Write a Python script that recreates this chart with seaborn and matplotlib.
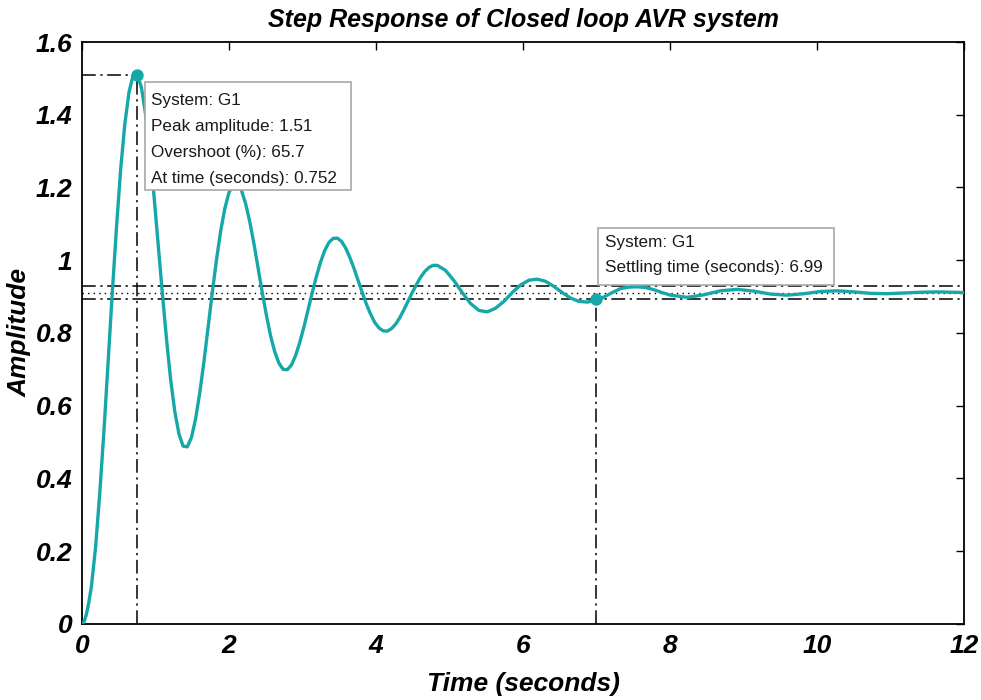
import matplotlib
matplotlib.use("Agg")
import matplotlib.pyplot as plt
import pandas as pd
import seaborn as sns
from matplotlib.patches import Rectangle

# ---------------- data ----------------
time_s = [0.0, 0.03, 0.06, 0.09, 0.129,
          0.185, 0.242, 0.299, 0.355, 0.412, 0.469, 0.525, 0.582, 0.639, 0.695, 0.752,
          0.809, 0.865, 0.922, 0.979, 1.035, 1.092, 1.149, 1.205, 1.262, 1.319, 1.375, 1.432,
          1.489, 1.545, 1.602, 1.659, 1.715, 1.772, 1.829, 1.885, 1.942, 1.999, 2.055, 2.112,
          2.169, 2.225, 2.282, 2.339, 2.395, 2.452, 2.509, 2.565, 2.622, 2.679, 2.735, 2.792,
          2.849, 2.905, 2.962, 3.019, 3.075, 3.132, 3.189, 3.245, 3.302, 3.359, 3.415, 3.472,
          3.529, 3.585, 3.642, 3.699, 3.755, 3.812, 3.869, 3.925, 3.982, 4.039, 4.095, 4.152,
          4.209, 4.265, 4.322, 4.379, 4.435, 4.492, 4.549, 4.605, 4.662, 4.719, 4.775, 4.832,
          4.945, 5.059, 5.172, 5.285, 5.399, 5.512, 5.625, 5.739, 5.852, 5.965, 6.079, 6.192,
          6.305, 6.419, 6.532, 6.645, 6.759, 6.872, 6.985, 7.099, 7.212, 7.325, 7.439, 7.552,
          7.665, 7.779, 7.892, 8.005,
          8.232, 8.459, 8.685, 8.912, 9.139, 9.365, 9.592, 9.819, 10.045, 10.272, 10.499,
          10.725, 10.952, 11.179, 11.405, 11.632, 11.859, 12.0]

amplitude = [0.0, 0.007, 0.027, 0.056, 0.105,
             0.212, 0.361, 0.533, 0.721, 0.911, 1.090, 1.248, 1.374, 1.462, 1.508, 1.511,
             1.474, 1.401, 1.300, 1.178, 1.045, 0.911, 0.784, 0.673, 0.584, 0.522, 0.489, 0.487,
             0.513, 0.564, 0.636, 0.722, 0.816, 0.911, 1.001, 1.079, 1.142, 1.186, 1.209, 1.211,
             1.192, 1.156, 1.106, 1.045, 0.978, 0.911, 0.848, 0.792, 0.748, 0.717, 0.700, 0.699,
             0.712, 0.738, 0.774, 0.817, 0.864, 0.911, 0.956, 0.995, 1.027, 1.049, 1.060, 1.061,
             1.052, 1.034, 1.008, 0.978, 0.945, 0.911, 0.879, 0.852, 0.829, 0.814, 0.806, 0.805,
             0.812, 0.824, 0.842, 0.864, 0.887, 0.911, 0.933, 0.953, 0.969, 0.980, 0.986, 0.986,
             0.972, 0.944, 0.911, 0.881, 0.862, 0.858, 0.868, 0.887, 0.911, 0.932, 0.945, 0.948,
             0.942, 0.928, 0.911, 0.896, 0.887, 0.885, 0.889, 0.899, 0.911, 0.922, 0.926, 0.927,
             0.925, 0.919, 0.911, 0.904,
             0.898, 0.905, 0.916, 0.920, 0.915, 0.907, 0.904, 0.908, 0.914, 0.916, 0.913,
             0.909, 0.908, 0.910, 0.912, 0.913, 0.912, 0.911]

peak_time = 0.752
peak_amp = 1.51
overshoot_pct = 65.7
settling_time = 6.99
settling_amp = 0.893
final_value = 0.911
band_upper = 0.929
band_lower = 0.893

x_ticks = [0, 2, 4, 6, 8, 10, 12]
y_ticks = [0, 0.2, 0.4, 0.6, 0.8, 1.0, 1.2, 1.4, 1.6]
y_tick_labels = ["0", "0.2", "0.4", "0.6", "0.8", "1", "1.2", "1.4", "1.6"]

title = "Step Response of Closed loop AVR system"
x_label = "Time (seconds)"
y_label = "Amplitude"
peak_lines = ["System: G1",
              f"Peak amplitude: {peak_amp:.2f}",
              f"Overshoot (%): {overshoot_pct}",
              f"At time (seconds): {peak_time}"]
settle_lines = ["System: G1",
                f"Settling time (seconds): {settling_time}"]

# ---------------- styling ----------------
sns.set_theme(style="white")
plt.rcParams["font.family"] = ["Liberation Sans", "DejaVu Sans"]
plt.rcParams["text.color"] = "black"
plt.rcParams["axes.labelcolor"] = "black"
plt.rcParams["xtick.color"] = "black"
plt.rcParams["ytick.color"] = "black"

teal = "#16A8A8"
fig = plt.figure(figsize=(9.81, 7.0), dpi=100)
ax = fig.add_axes([0.0836, 0.1086, 0.8993, 0.8314])

df = pd.DataFrame({"Time": time_s, "Amplitude": amplitude})
sns.lineplot(data=df, x="Time", y="Amplitude", ax=ax, color=teal,
             linewidth=2.4, zorder=3, sort=False)

dashdot = (0, (9, 3, 1.5, 3))
# settling band and final value
ax.axhline(band_upper, color="black", lw=1.1, linestyle=dashdot, zorder=2)
ax.axhline(band_lower, color="black", lw=1.1, linestyle=dashdot, zorder=2)
ax.axhline(final_value, color="black", lw=1.0, linestyle=(0, (1, 3)), zorder=2)
# peak guides
ax.plot([0, peak_time], [peak_amp, peak_amp], color="black", lw=1.1, linestyle=dashdot, zorder=2)
ax.plot([peak_time, peak_time], [0, peak_amp], color="black", lw=1.1, linestyle=dashdot, zorder=2)
# settling guide
ax.plot([settling_time, settling_time], [0, settling_amp], color="black", lw=1.1,
        linestyle=dashdot, zorder=2)

sns.scatterplot(x=[peak_time, settling_time], y=[peak_amp, settling_amp], ax=ax,
                color=teal, s=80, edgecolor=teal, linewidth=0, zorder=4)

# data tip boxes
ax.add_patch(Rectangle((0.85, 1.192), 2.81, 0.297, facecolor="white",
                       edgecolor="#a8a8a8", lw=1.2, zorder=5))
for i, line in enumerate(peak_lines):
    ax.text(0.94, 1.440 - i * 0.0715, line, fontsize=12.3, color="#1a1a1a",
            va="center", ha="left", zorder=6)
ax.add_patch(Rectangle((7.02, 0.931), 3.21, 0.157, facecolor="white",
                       edgecolor="#a8a8a8", lw=1.2, zorder=5))
for i, line in enumerate(settle_lines):
    ax.text(7.12, 1.049 - i * 0.068, line, fontsize=12.3, color="#1a1a1a",
            va="center", ha="left", zorder=6)

ax.set_xlim(0, 12)
ax.set_ylim(0, 1.6)
ax.set_xticks(x_ticks)
ax.set_xticklabels([str(v) for v in x_ticks])
ax.set_yticks(y_ticks)
ax.set_yticklabels(y_tick_labels)
ax.tick_params(direction="in", length=6, width=1.0, top=True, right=True,
               labelsize=19, pad=7, colors="black")
for lbl in ax.get_xticklabels() + ax.get_yticklabels():
    lbl.set_fontweight("bold")
    lbl.set_fontstyle("italic")

for sp in ax.spines.values():
    sp.set_color("black")
    sp.set_linewidth(1.3)

ax.set_title(title, fontsize=18, fontweight="bold", fontstyle="italic", pad=11,
             color="black")
ax.set_xlabel(x_label, fontsize=19, fontweight="bold", fontstyle="italic", labelpad=10)
ax.set_ylabel(y_label, fontsize=19, fontweight="bold", fontstyle="italic", labelpad=3)

fig.savefig("out.png", dpi=100)
